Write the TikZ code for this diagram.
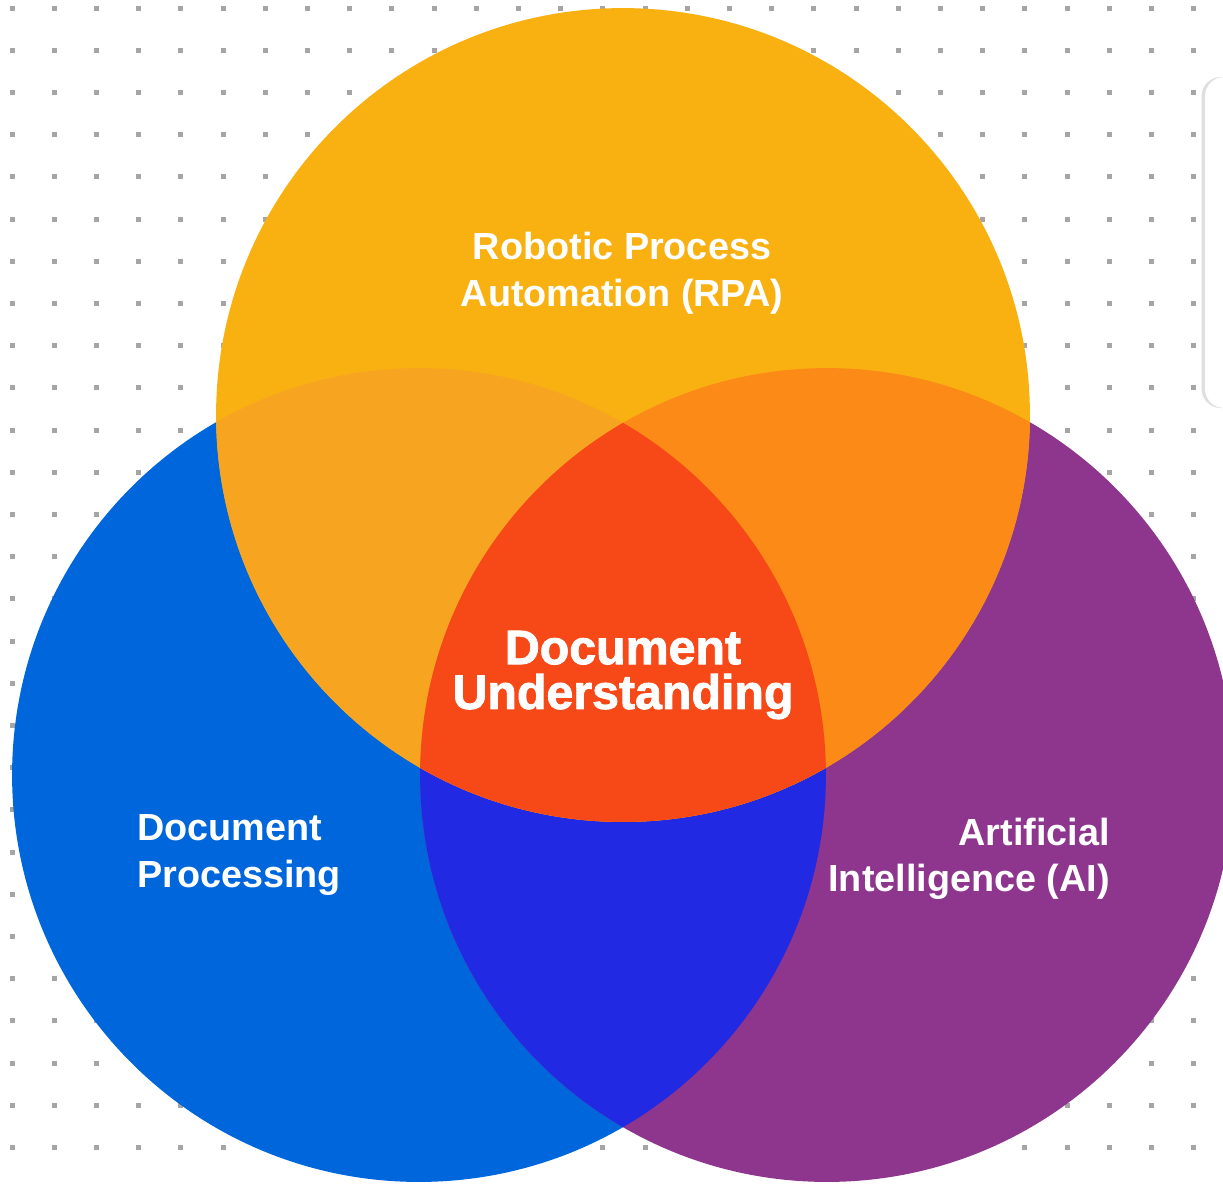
\documentclass[tikz,border=0pt]{standalone}
\usepackage{fontspec}
\setmainfont{Liberation Sans}
\newfontfamily\heavyfont{Liberation Sans}[UprightFont=* Bold, FakeBold=1.8]
\usetikzlibrary{
    positioning,
    shadows
}

\definecolor{dotgray}{HTML}{A5A5A5}
\definecolor{rpacol}{HTML}{F9B112}
\definecolor{dpcol}{HTML}{0066DC}
\definecolor{aicol}{HTML}{8E368E}
\definecolor{rpadpcol}{HTML}{F7A520}
\definecolor{rpaaicol}{HTML}{FB8A17}
\definecolor{dpaicol}{HTML}{2229E3}
\definecolor{ducol}{HTML}{F74817}

\tikzset{
    label text/.style={text=white,font=\bfseries\fontsize{21.5}{26.5}\selectfont,inner sep=0pt},
    core text/.style={text=white,font=\heavyfont\fontsize{27.5}{25.5}\selectfont,inner sep=0pt,align=center}
}

\begin{document}
\begin{tikzpicture}[x=0.02cm,y=-0.02cm]
		\clip (0,0) rectangle (1223,1184);
		\fill[white] (0,0) rectangle (1223,1184);
		% dot grid
		\foreach \i in {0,...,28}
			\foreach \j in {0,...,28}
				\fill[dotgray] ({9.5+42.2*\i},{5.5+42.2*\j}) rectangle +(5,5);
		\fill[white,rounded corners=11pt,drop shadow={shadow xshift=-2pt,shadow yshift=0pt,opacity=0.25}] (1205,77) rectangle (1280,408);
		\coordinate (rpa) at (623,415);
		\coordinate (dp) at (419,775);
		\coordinate (ai) at (827,775);
		\fill[dpcol] (dp) circle[radius=8.14cm];
		\fill[aicol] (ai) circle[radius=8.14cm];
		\fill[rpacol] (rpa) circle[radius=8.14cm];
		\begin{scope}
			\clip (dp) circle[radius=8.14cm];
			\fill[dpaicol] (ai) circle[radius=8.14cm];
		\end{scope}
		\begin{scope}
			\clip (rpa) circle[radius=8.14cm];
			\fill[rpadpcol] (dp) circle[radius=8.14cm];
			\fill[rpaaicol] (ai) circle[radius=8.14cm];
			\clip (dp) circle[radius=8.14cm];
			\fill[ducol] (ai) circle[radius=8.14cm];
		\end{scope}
		\node[label text,align=center] (rpatext) at (622,273) {Robotic Process\\Automation (RPA)};
		\node[label text,align=left,anchor=west] (dptext) at (137,855) {Document\\Processing};
		\node[label text,align=right,anchor=east] (aitext) at (1110,859) {Artificial\\Intelligence (AI)};
		\node[core text] (dutext) at (623,675) {Document\\Understanding};
	\end{tikzpicture}
\end{document}
